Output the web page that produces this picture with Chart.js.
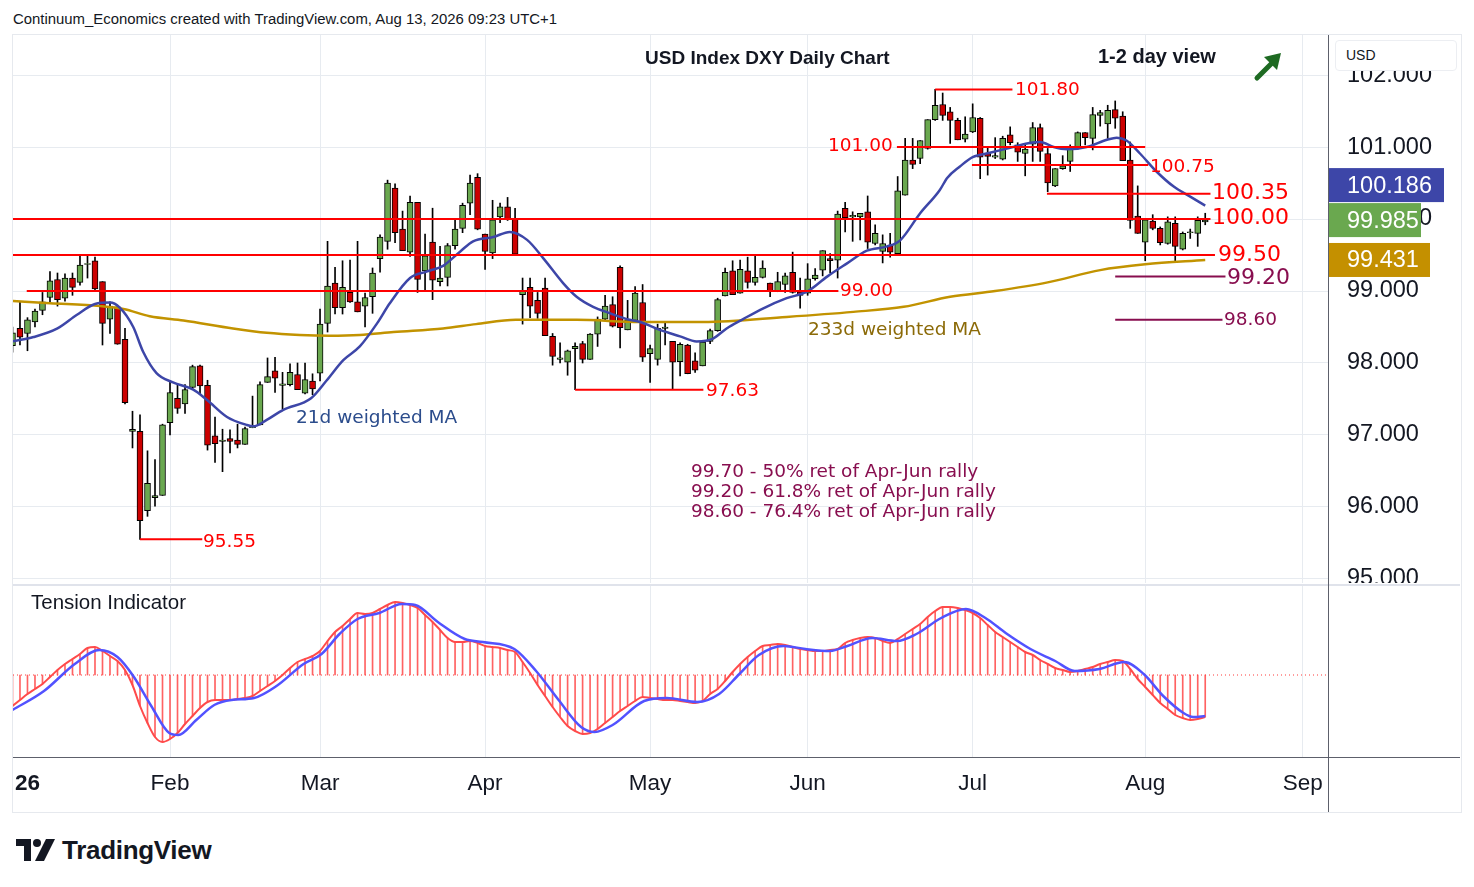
<!DOCTYPE html>
<html>
<head>
<meta charset="utf-8">
<title>USD Index DXY Daily Chart</title>
<script src="https://cdn.jsdelivr.net/npm/chart.js@4.4.1/dist/chart.umd.min.js"></script>
<style>
  body { margin: 0; background: #fff; }
  #wrap { position: relative; width: 1474px; height: 887px; overflow: hidden; background: #fff; }
  .t { position: absolute; white-space: nowrap; line-height: 1; transform: translateY(-50%); }
  .lv { font-family: "DejaVu Sans", sans-serif; }
  canvas { position: absolute; }
</style>
</head>
<body>
<div id="wrap">
  <div class="t" style="left:13px;top:19px;font:14.9px 'Liberation Sans',sans-serif;color:#131722">Continuum_Economics created with TradingView.com, Aug 13, 2026 09:23 UTC+1</div>
  <div style="position:absolute;left:12px;top:34px;width:1448px;height:777px;border:1px solid #e6e9ee"></div>

  <canvas id="main" width="1447" height="548" style="left:13px;top:35px"></canvas>
  <div style="position:absolute;left:13px;top:584px;width:1447px;height:2px;background:#e0e3eb"></div>
  <canvas id="tension" width="1447" height="226" style="left:13px;top:586px"></canvas>
  <div style="position:absolute;left:13px;top:757px;width:1447px;height:1px;background:#5d606b"></div>
  <div style="position:absolute;left:1328px;top:35px;width:1px;height:777px;background:#5d606b"></div>

  <div style="position:absolute;left:1335px;top:40px;width:120px;height:29px;background:#fff;border:1px solid #eceef2;border-radius:4px"></div>
  <div class="t" style="left:1346px;top:55px;font:14px 'Liberation Sans',sans-serif;color:#131722">USD</div>

  <div class="t" style="left:645px;top:58px;font:bold 19px 'Liberation Sans',sans-serif;color:#131722">USD Index DXY Daily Chart</div>
  <div class="t" style="left:1098px;top:56px;font:bold 20px 'Liberation Sans',sans-serif;color:#131722">1-2 day view</div>
  <svg style="position:absolute;left:1248px;top:48px" width="40" height="40" viewBox="0 0 40 40">
    <line x1="9" y1="30" x2="27" y2="12" stroke="#1e6a22" stroke-width="5" stroke-linecap="round"/>
    <polygon points="33,5 16,9 29,22" fill="#1e6a22"/>
  </svg>

  <div class="t lv" style="left:1015px;top:89px;font-size:18.5px;color:#ff0000">101.80</div>
  <div class="t lv" style="left:828px;top:145px;font-size:18.5px;color:#ff0000">101.00</div>
  <div class="t lv" style="left:1150px;top:166px;font-size:18.5px;color:#ff0000">100.75</div>
  <div class="t lv" style="left:1212px;top:192px;font-size:22px;color:#ff0000">100.35</div>
  <div class="t lv" style="left:1212px;top:217px;font-size:22px;color:#ff0000">100.00</div>
  <div class="t lv" style="left:1218px;top:254px;font-size:22px;color:#ff0000">99.50</div>
  <div class="t lv" style="left:1227px;top:277px;font-size:22px;color:#880e4f">99.20</div>
  <div class="t lv" style="left:1224px;top:319px;font-size:18.5px;color:#880e4f">98.60</div>
  <div class="t lv" style="left:840px;top:290px;font-size:18.5px;color:#ff0000">99.00</div>
  <div class="t lv" style="left:706px;top:390px;font-size:18.5px;color:#ff0000">97.63</div>
  <div class="t lv" style="left:203px;top:541px;font-size:18.5px;color:#ff0000">95.55</div>
  <div class="t lv" style="left:296px;top:417px;font-size:18.5px;color:#2b4c8c">21d weighted MA</div>
  <div class="t lv" style="left:808px;top:329px;font-size:18.5px;color:#8b6a08">233d weighted MA</div>
  <div class="t lv" style="left:691px;top:471px;font-size:18.5px;color:#880e4f">99.70 - 50% ret of Apr-Jun rally</div>
  <div class="t lv" style="left:691px;top:491px;font-size:18.5px;color:#880e4f">99.20 - 61.8% ret of Apr-Jun rally</div>
  <div class="t lv" style="left:691px;top:511px;font-size:18.5px;color:#880e4f">98.60 - 76.4% ret of Apr-Jun rally</div>
  <div class="t" style="left:31px;top:602px;font:20.5px 'Liberation Sans',sans-serif;color:#131722">Tension Indicator</div>

  <svg style="position:absolute;left:16px;top:838px" width="40" height="24" viewBox="0 0 40 24">
    <path d="M0 1 H15 V23 H8 V8 H0 Z" fill="#131722"/>
    <circle cx="21" cy="5" r="4" fill="#131722"/>
    <polygon points="30,1 39,1 28,23 19,23" fill="#131722"/>
  </svg>
  <div class="t" style="left:62px;top:850px;font:bold 26px 'Liberation Sans',sans-serif;color:#131722;letter-spacing:-0.3px">TradingView</div>
</div>

<script>
// daily candles, Jan 2 .. Aug 13 2026 (trading-day index 0..159)
var opens = [
  98.24,98.48,98.41,98.57,98.73,98.91,99.16,98.90,99.18,99.12,99.37,99.42,99.13,98.61,98.78,98.33,97.05,97.05,95.95,96.13,
  96.16,97.17,97.51,97.43,97.66,97.96,97.69,96.99,96.91,96.95,96.93,96.87,97.10,97.14,97.73,97.89,97.69,97.70,97.84,97.58,
  97.75,97.86,98.55,99.11,98.77,98.98,98.85,98.79,98.92,99.45,99.69,100.43,99.86,99.54,100.23,99.28,99.68,99.13,99.19,99.63,
  99.87,100.22,100.58,99.79,99.53,100.03,100.17,100.00,98.95,99.05,98.87,99.04,98.37,98.05,98.01,98.20,98.27,98.05,98.40,98.61,
  98.81,99.33,98.46,98.59,98.84,98.13,98.05,98.48,98.30,98.02,98.25,98.03,97.96,98.30,98.45,98.93,99.28,98.97,99.28,99.12,
  99.19,99.11,98.99,99.09,99.26,98.99,98.97,99.17,99.29,99.45,99.43,100.15,100.03,100.03,100.10,99.66,99.55,99.63,99.52,100.33,
  100.82,100.84,100.98,101.38,101.59,101.49,101.37,101.11,101.21,101.40,100.91,100.86,100.83,101.17,101.03,100.91,101.04,101.27,100.91,100.46,
  100.70,100.80,100.98,101.20,101.12,101.44,101.32,101.52,101.43,100.82,100.04,99.68,99.97,99.87,99.66,99.94,99.58,99.81,99.80,99.96
];
var highs = [
  98.50,98.85,98.63,98.75,98.98,99.27,99.25,99.24,99.25,99.48,99.50,99.47,99.13,98.85,98.80,98.48,97.33,97.28,96.78,96.66,
  97.15,97.74,97.70,97.70,97.97,97.97,97.76,97.25,97.08,97.07,97.15,97.11,97.54,97.74,98.07,98.08,97.87,97.99,98.00,98.00,
  97.85,98.75,99.69,99.33,99.42,99.43,99.69,98.97,99.32,99.78,100.54,100.49,100.11,100.32,100.23,99.79,100.15,99.62,99.66,99.99,
  100.22,100.61,100.63,99.79,100.26,100.22,100.30,100.15,99.18,99.18,98.98,99.18,98.41,98.28,98.18,98.28,98.30,98.41,98.64,98.94,
  98.92,99.35,98.87,99.06,99.09,98.25,98.54,98.56,98.30,98.28,98.26,98.14,98.29,98.47,98.90,99.32,99.42,99.43,99.47,99.49,
  99.42,99.11,99.26,99.25,99.54,99.18,99.38,99.31,99.56,99.52,100.11,100.23,100.10,100.08,100.32,99.92,99.78,99.80,100.59,101.12,
  101.12,101.09,101.38,101.80,101.75,101.55,101.40,101.42,101.60,101.41,101.00,101.13,101.15,101.28,101.06,101.03,101.34,101.32,100.98,100.70,
  100.88,101.03,101.21,101.20,101.55,101.51,101.58,101.64,101.49,101.07,100.46,99.99,100.06,99.89,100.03,100.03,99.82,99.86,100.03,100.08
];
var lows = [
  98.15,98.25,98.17,98.50,98.67,98.85,98.79,98.86,98.94,99.08,99.18,99.01,98.25,98.41,98.26,97.43,96.82,95.55,95.87,96.01,
  96.16,97.00,97.30,97.30,97.63,97.56,96.79,96.62,96.49,96.75,96.82,96.87,97.10,97.14,97.73,97.59,97.36,97.68,97.63,97.57,
  97.56,97.75,98.43,98.68,98.68,98.84,98.71,98.50,98.69,99.26,99.58,99.67,99.56,99.48,98.98,99.01,98.88,99.07,99.07,99.58,
  99.81,100.06,99.85,99.30,99.45,99.95,99.98,99.51,98.54,98.63,98.62,98.38,97.97,98.00,97.83,97.63,98.00,98.05,98.23,98.60,
  98.50,98.21,98.46,98.57,98.02,97.73,97.97,98.25,97.64,97.82,97.85,97.87,97.96,98.27,98.44,98.93,98.95,98.97,99.04,99.08,
  99.18,98.92,98.99,98.98,98.97,98.76,98.94,99.15,99.21,99.25,99.18,99.82,99.69,99.71,99.59,99.64,99.39,99.47,99.52,100.33,
  100.70,100.77,100.97,101.37,101.37,101.05,101.10,101.07,101.20,100.56,100.61,100.84,100.82,101.03,100.80,100.60,100.80,100.80,100.38,100.45,
  100.69,100.66,100.97,101.03,100.96,101.29,101.12,101.26,100.81,99.87,99.80,99.42,99.85,99.64,99.65,99.42,99.57,99.73,99.62,99.92
];
var closes = [
  98.42,98.36,98.60,98.72,98.85,99.14,98.88,99.18,99.05,99.36,99.38,99.03,98.55,98.79,98.26,97.45,97.08,95.81,96.33,96.16,
  97.14,97.59,97.37,97.63,97.95,97.68,96.86,96.88,96.93,96.91,96.87,97.09,97.12,97.70,97.81,97.79,97.71,97.87,97.63,97.77,
  97.64,98.54,99.07,98.77,99.05,98.85,98.71,98.91,99.25,99.75,100.50,99.81,99.56,100.23,99.16,99.49,99.15,99.18,99.63,99.86,
  100.19,100.50,99.86,99.55,99.99,100.17,99.99,99.51,99.00,98.79,98.69,98.38,98.09,98.07,98.17,98.23,98.05,98.40,98.61,98.79,
  98.51,98.49,98.60,98.97,98.08,98.20,98.48,98.50,98.01,98.26,97.85,97.90,98.29,98.45,98.88,99.26,98.95,99.30,99.12,99.19,
  99.32,99.00,99.13,99.21,98.98,98.94,99.17,99.22,99.56,99.42,100.07,100.02,100.05,100.08,99.68,99.80,99.66,99.54,100.39,100.82,
  100.76,101.09,101.38,101.58,101.44,101.37,101.10,101.18,101.41,100.86,100.87,100.88,101.12,101.06,100.93,100.97,101.27,100.94,100.50,100.70,
  100.74,100.99,101.20,101.13,101.45,101.48,101.51,101.40,100.81,99.98,99.80,99.99,99.87,99.67,99.96,99.62,99.80,99.82,99.98,99.985
];

// moving averages (bar index, value)
var ma21X = [0,2.8,6,8.6,11,13,14.3,16.1,17.4,19.2,21.4,24.1,25.9,28.6,31.2,32.1,33.9,36.1,39.8,41.9,44.1,46.3,48.6,50.3,53,55.2,57.4,59.7,61.4,64.1,66.3,68.6,70.8,73.4,75.2,77.4,79.7,81.9,83.7,86.3,89,91.2,93.4,95.2,97.4,100.1,103.2,105.9,108.6,111.2,113.9,116.6,118.3,121,123.6,124.6,126.3,128,130.3,133.4,135.7,137,138.8,140.6,143.2,145.9,147.2,148.5,150.3,152.5,154.8,157,159];
var ma21 = [98.30,98.36,98.48,98.67,98.82,98.84,98.77,98.50,98.16,97.86,97.73,97.63,97.49,97.25,97.14,97.12,97.21,97.35,97.51,97.76,98.04,98.23,98.55,98.83,99.18,99.27,99.35,99.55,99.69,99.75,99.82,99.71,99.45,99.11,98.92,98.78,98.69,98.61,98.57,98.46,98.37,98.30,98.34,98.48,98.61,98.76,98.90,98.99,99.20,99.38,99.56,99.62,99.70,100.08,100.40,100.57,100.73,100.86,100.92,101.00,101.06,101.07,101.00,100.97,101.00,101.10,101.13,101.09,100.91,100.66,100.45,100.31,100.186];
var ma233X = [0,5,11.7,14.8,18.3,22.8,29.4,33.9,38.3,42.3,46.3,50.8,57.4,61.8,67.1,75.2,83.7,92.1,103.2,112.1,118.8,125,131,138,145,151,159];
var ma233 = [98.86,98.83,98.79,98.75,98.65,98.59,98.48,98.42,98.39,98.38,98.39,98.43,98.48,98.54,98.60,98.60,98.57,98.57,98.64,98.71,98.78,98.92,99.00,99.12,99.29,99.37,99.431];

// drawn support / resistance levels
var levelValues = [101.80, 101.00, 100.75, 100.35, 100.00, 99.50, 99.00, 97.63, 95.55];
var levelFrom   = [123, 117.9, 127.9, 137.9, 0.07, 0.07, 1.9, 75, 17];
var levelTo     = [133.3, 151, 151.4, 159.7, 159.7, 160.3, 110.1, 92.1, 25.3];
var retValues = [99.20, 98.60];
var retFrom   = [147, 147];
var retTo     = [161.7, 161.3];

// tension indicator
var tensionRed = [
  -31,-25,-19,-14,-9,-2,5,11,16,21,27,28,24,19,14,5,-10,-31,-48,-62,
  -67,-64,-58,-49,-41,-33,-27,-25,-25,-25,-24,-23,-21,-16,-11,-6,0,7,13,16,
  19,24,34,43,49,56,62,61,62,66,70,73,72,70,67,60,53,45,37,33,
  33,34,32,29,28,27,25,23,13,2,-10,-21,-32,-42,-51,-56,-59,-58,-54,-48,
  -42,-36,-31,-26,-22,-23,-24,-25,-25,-26,-27,-28,-26,-19,-14,-6,3,11,18,24,
  29,30,31,30,28,26,25,24,24,25,26,32,35,37,38,37,34,32,36,41,
  46,51,58,64,68,68,67,65,62,57,50,43,38,33,28,23,20,15,11,7,
  5,3,4,6,8,11,13,15,14,6,-4,-12,-20,-28,-34,-40,-43,-45,-44,-42
];
var tensionBlueX = [0,4.2,8.3,11.6,14,16.1,18.5,20.9,22.1,24.5,26.9,29.2,32.2,35.2,38.8,41.2,43.6,46,48.9,51.9,53.7,56.7,60.3,62.7,66.9,69.8,72.8,75.8,77.6,80,84.2,87.2,91.3,94.2,96.9,99.5,102.8,105.7,109,111.3,114.6,117.9,120.5,123.8,127.1,129.7,132.4,135.7,139,141.6,144.9,148.2,150.8,153.4,156.1,157.4,159];
var tensionBlue = [-35,-16,11,25,18,-1,-31,-58,-60,-45,-30,-25,-23,-11,11,21,41,56,62,71,70,53,36,33,26,4,-25,-52,-57,-50,-26,-23,-27,-19,1,20,29,26,24,29,37,34,41,57,66,57,42,26,14,4,6,13,1,-21,-38,-42,-41];

// time axis
var monthTicks = [21, 41, 63, 85, 106, 128, 151, 172];
var monthLabels = ['Feb', 'Mar', 'Apr', 'May', 'Jun', 'Jul', 'Aug', 'Sep'];
var axisTicks = [2].concat(monthTicks);
var axisLabels = ['26'].concat(monthLabels);
var priceTicks = [95, 96, 97, 98, 99, 100, 101, 102];

var X_MIN = 0.07, X_MAX = 175.5;
var GREEN = '#6aa84f', RED = '#cc0000', GRID = '#e7ebf0';
var AXIS_FONT = { family: 'Liberation Sans', size: 23.5 };

function pts(xs, ys) {
  return xs.map(function(x, k) { return { x: x, y: ys[k] }; });
}
// keep the plot area fixed: no extra room for overhanging tick labels
function noPad(s) {
  s.paddingTop = 0; s.paddingBottom = 0; s.paddingLeft = 0; s.paddingRight = 0;
}

var bodies = [], wicks = [], bodyColors = [];
for (var i = 0; i < closes.length; i++) {
  var o = opens[i], c = closes[i];
  var lo = Math.min(o, c), hi = Math.max(o, c);
  if (hi - lo < 0.012) hi = lo + 0.012;
  bodies.push({ x: i, y: [lo, hi] });
  wicks.push({ x: i, y: [lows[i], highs[i]] });
  bodyColors.push(c >= o ? GREEN : RED);
}

var levelSets = [];
levelValues.forEach(function(v, k) {
  levelSets.push({ type: 'line', data: [{ x: levelFrom[k], y: v }, { x: levelTo[k], y: v }],
    borderColor: '#ff0000', borderWidth: 2, pointRadius: 0, order: 0 });
});
retValues.forEach(function(v, k) {
  levelSets.push({ type: 'line', data: [{ x: retFrom[k], y: v }, { x: retTo[k], y: v }],
    borderColor: '#880e4f', borderWidth: 2, pointRadius: 0, order: 0 });
});

// price tags on the right axis
var priceTags = {
  id: 'priceTags',
  afterDraw: function(chart) {
    var ctx = chart.ctx, ys = chart.scales.y, left = chart.chartArea.right;
    var gY = ys.getPixelForValue(closes[closes.length - 1]);
    var oY = ys.getPixelForValue(ma233[ma233.length - 1]);
    var bY = Math.min(ys.getPixelForValue(ma21[ma21.length - 1]), gY - 35);
    var tags = [
      { y: bY, w: 115, bg: '#3d46a8', txt: ma21[ma21.length - 1].toFixed(3) },
      { y: gY, w: 92, bg: GREEN, txt: closes[closes.length - 1].toFixed(3) },
      { y: oY, w: 101, bg: '#c49000', txt: ma233[ma233.length - 1].toFixed(3) }
    ];
    ctx.save();
    ctx.font = AXIS_FONT.size + 'px "' + AXIS_FONT.family + '"';
    ctx.textBaseline = 'middle';
    tags.forEach(function(t) {
      ctx.fillStyle = t.bg;
      ctx.fillRect(left, t.y - 17, t.w, 34);
      ctx.fillStyle = '#ffffff';
      ctx.fillText(t.txt, left + 18, t.y + 1);
    });
    ctx.restore();
  }
};

new Chart(document.getElementById('main'), {
  type: 'bar',
  data: {
    datasets: levelSets.concat([
      { type: 'line', label: '21d weighted MA', data: pts(ma21X, ma21), borderColor: '#3d46a8',
        borderWidth: 2.5, pointRadius: 0, cubicInterpolationMode: 'monotone', order: 1 },
      { type: 'line', label: '233d weighted MA', data: pts(ma233X, ma233), borderColor: '#c29300',
        borderWidth: 2.5, pointRadius: 0, cubicInterpolationMode: 'monotone', order: 1 },
      { type: 'bar', label: 'body', data: bodies, backgroundColor: bodyColors, borderColor: '#000',
        borderWidth: 1, borderSkipped: false, barThickness: 6, grouped: false, order: 2 },
      { type: 'bar', label: 'wick', data: wicks, backgroundColor: '#000', barThickness: 1,
        grouped: false, order: 3 }
    ])
  },
  options: {
    responsive: false,
    devicePixelRatio: 1,
    animation: false,
    events: [],
    layout: { padding: 0 },
    plugins: { legend: { display: false }, tooltip: { enabled: false } },
    scales: {
      x: {
        type: 'linear', min: X_MIN, max: X_MAX, offset: false,
        grid: { color: GRID, offset: false, drawTicks: false },
        border: { display: false },
        ticks: { display: false },
        afterBuildTicks: function(s) { s.ticks = monthTicks.map(function(v) { return { value: v }; }); },
        afterFit: function(s) { s.height = 0; noPad(s); }
      },
      y: {
        position: 'right', min: 94.944, max: 102.556, beginAtZero: false,
        grid: { color: GRID, drawTicks: false },
        border: { display: false },
        ticks: { padding: 18, color: '#131722', font: AXIS_FONT,
                 callback: function(v) { return v.toFixed(3); } },
        afterBuildTicks: function(s) { s.ticks = priceTicks.map(function(v) { return { value: v }; }); },
        afterFit: function(s) { s.width = 131; noPad(s); }
      }
    }
  },
  plugins: [priceTags]
});

new Chart(document.getElementById('tension'), {
  type: 'bar',
  data: {
    datasets: [
      { type: 'line', label: 'signal', data: pts(tensionBlueX, tensionBlue), borderColor: '#5252ff',
        borderWidth: 2.5, pointRadius: 0, cubicInterpolationMode: 'monotone', order: 0 },
      { type: 'line', label: 'tension', data: tensionRed.map(function(v, k) { return { x: k, y: v }; }),
        borderColor: '#ff4a4a', borderWidth: 2, pointRadius: 0, cubicInterpolationMode: 'monotone', order: 1 },
      { type: 'line', label: 'zero', data: [{ x: X_MIN, y: 0 }, { x: X_MAX, y: 0 }], borderColor: '#ff3b3b',
        borderWidth: 1, borderDash: [1, 3], pointRadius: 0, order: 2 },
      { type: 'bar', label: 'hist', data: tensionRed.map(function(v, k) { return { x: k, y: [0, v] }; }),
        backgroundColor: 'rgba(255,70,70,0.85)', barThickness: 1, grouped: false, order: 3 }
    ]
  },
  options: {
    responsive: false,
    devicePixelRatio: 1,
    animation: false,
    events: [],
    layout: { padding: 0 },
    plugins: { legend: { display: false }, tooltip: { enabled: false } },
    scales: {
      x: {
        type: 'linear', min: X_MIN, max: X_MAX, offset: false,
        grid: { offset: false, drawTicks: false,
                color: function(c) { return c.tick && c.tick.value === 2 ? 'rgba(0,0,0,0)' : GRID; } },
        border: { display: false },
        ticks: {
          padding: 13, color: '#131722', autoSkip: false, maxRotation: 0,
          font: function(c) {
            return { family: 'Liberation Sans', size: 22.5, weight: c.tick && c.tick.value === 2 ? 'bold' : 'normal' };
          },
          callback: function(v) { var k = axisTicks.indexOf(v); return k >= 0 ? axisLabels[k] : ''; }
        },
        afterBuildTicks: function(s) { s.ticks = axisTicks.map(function(v) { return { value: v }; }); },
        afterFit: function(s) { s.height = 55; noPad(s); }
      },
      y: {
        position: 'right', min: -82, max: 89, beginAtZero: false,
        grid: { display: false },
        border: { display: false },
        ticks: { display: false },
        afterFit: function(s) { s.width = 131; noPad(s); }
      }
    }
  }
});
</script>
</body>
</html>
